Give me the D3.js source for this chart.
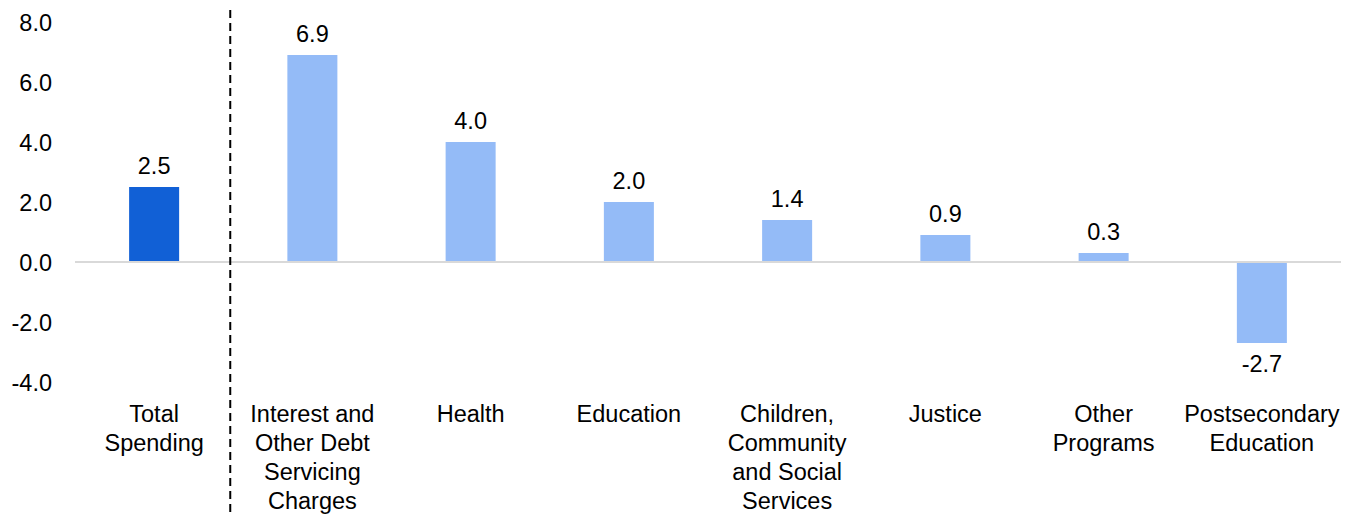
<!DOCTYPE html>
<html>
<head>
<meta charset="utf-8">
<script src="https://cdn.jsdelivr.net/npm/d3@7"></script>
<style>
  html, body { margin: 0; padding: 0; background: #fff; }
  svg text { font-family: "Liberation Sans", Arial, sans-serif; fill: #000; }
</style>
</head>
<body>
<svg id="chart" width="1357" height="514"></svg>
<script>
// Year-over-year spending growth by sector (per cent)
const categories = [
  "Total Spending",
  "Interest and Other Debt Servicing Charges",
  "Health",
  "Education",
  "Children, Community and Social Services",
  "Justice",
  "Other Programs",
  "Postsecondary Education"
];
const categoryLines = [
  ["Total", "Spending"],
  ["Interest and", "Other Debt", "Servicing", "Charges"],
  ["Health"],
  ["Education"],
  ["Children,", "Community", "and Social", "Services"],
  ["Justice"],
  ["Other", "Programs"],
  ["Postsecondary", "Education"]
];
const growth = [2.5, 6.9, 4.0, 2.0, 1.4, 0.9, 0.3, -2.7];
const yTicks = [8, 6, 4, 2, 0, -2, -4];

const svg = d3.select("#chart");
const fontSize = 23.5;

// one decimal, plain hyphen for negatives
const fmt = d => d3.format(".1f")(d).replace("\u2212", "-");

const x = d3.scaleBand()
  .domain(categories)
  .range([75, 1341])
  .paddingInner(0.684)
  .paddingOuter(0.342);

const y = d3.scaleLinear()
  .domain([-4, 8])
  .range([382, 22]);

// y-axis labels (no line, no ticks)
const yAxis = d3.axisLeft(y)
  .tickValues(yTicks)
  .tickFormat(fmt)
  .tickSize(0)
  .tickPadding(0);
svg.append("g")
  .attr("transform", "translate(52,0)")
  .call(yAxis)
  .call(g => g.select(".domain").remove())
  .call(g => g.selectAll("text")
    .attr("font-size", fontSize)
    .attr("font-family", "Liberation Sans, Arial, sans-serif")
    .attr("fill", "#000")
    .attr("dy", "0.36em"));

// bars
svg.append("g").selectAll("rect")
  .data(growth)
  .join("rect")
  .attr("x", (d, i) => x(categories[i]))
  .attr("width", x.bandwidth())
  .attr("y", d => y(Math.max(0, d)))
  .attr("height", d => Math.abs(y(d) - y(0)))
  .attr("fill", (d, i) => i === 0 ? "#1160D6" : "#94BBF7");

// zero baseline
svg.append("line")
  .attr("x1", 75).attr("x2", 1341)
  .attr("y1", y(0)).attr("y2", y(0))
  .attr("stroke", "#d9d9d9")
  .attr("stroke-width", 2);

// separator between total and the sectors
const sepX = x(categories[1]) - x.step() * x.paddingInner() / 2 - 3;
svg.append("line")
  .attr("x1", sepX).attr("x2", sepX)
  .attr("y1", 10).attr("y2", 514)
  .attr("stroke", "#000")
  .attr("stroke-width", 2)
  .attr("stroke-dasharray", "8,5");

// value labels
svg.append("g").selectAll("text")
  .data(growth)
  .join("text")
  .attr("x", (d, i) => x(categories[i]) + x.bandwidth() / 2)
  .attr("y", d => d >= 0 ? y(d) - 13 : y(d) + 29)
  .attr("text-anchor", "middle")
  .attr("font-size", fontSize)
  .text(fmt);

// category labels
const catG = svg.append("g");
categoryLines.forEach((lines, i) => {
  const t = catG.append("text")
    .attr("text-anchor", "middle")
    .attr("font-size", fontSize);
  lines.forEach((ln, j) => {
    t.append("tspan")
      .attr("x", x(categories[i]) + x.bandwidth() / 2)
      .attr("y", 422 + j * 29)
      .text(ln);
  });
});
</script>
</body>
</html>
